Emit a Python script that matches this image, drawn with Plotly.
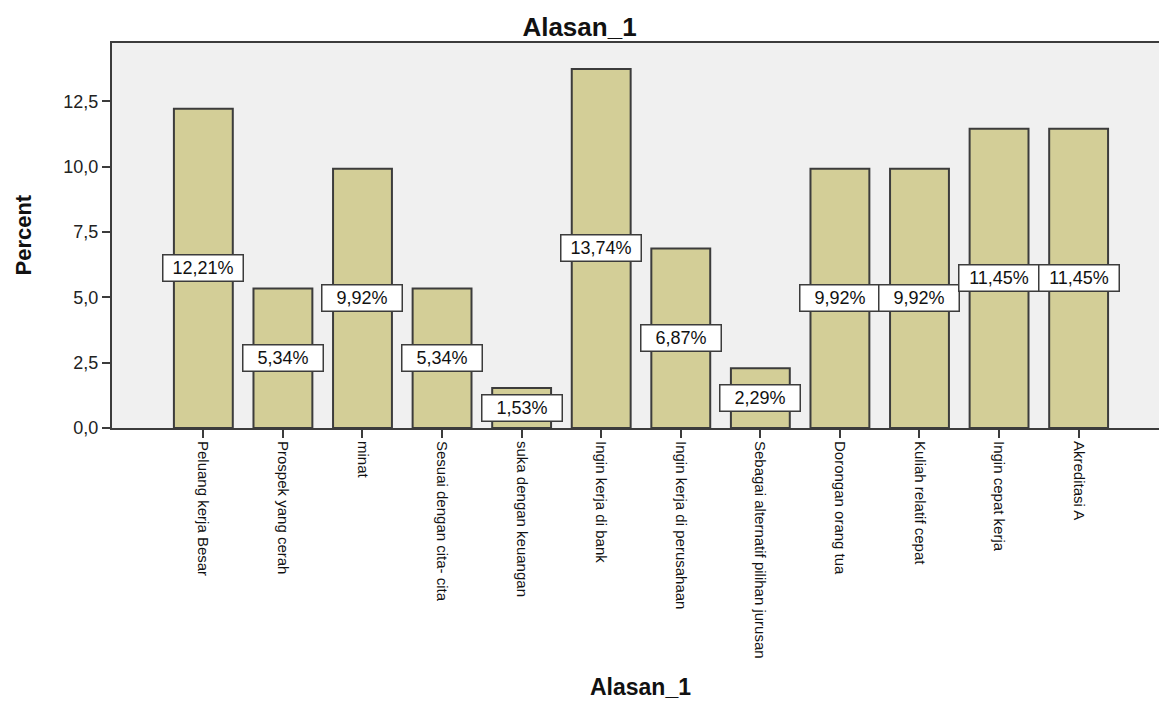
import plotly.graph_objects as go

# Frequency of first-choice reasons (percent of respondents)
categories = [
    "Peluang kerja Besar",
    "Prospek yang cerah",
    "minat",
    "Sesuai dengan cita- cita",
    "suka dengan keuangan",
    "Ingin kerja di bank",
    "Ingin kerja di perusahaan",
    "Sebagai alternatif pilihan jurusan",
    "Dorongan orang tua",
    "Kuliah relatif cepat",
    "Ingin cepat kerja",
    "Akreditasi A",
]
percent = [12.21, 5.34, 9.92, 5.34, 1.53, 13.74, 6.87, 2.29, 9.92, 9.92, 11.45, 11.45]
y_ticks = [0.0, 2.5, 5.0, 7.5, 10.0, 12.5]

FONT = "Liberation Sans, Arial, sans-serif"
EDGE = "#3c3c3c"

fig = go.Figure(
    go.Bar(
        x=categories,
        y=percent,
        width=0.74,
        marker=dict(color="#d3ce97", line=dict(color=EDGE, width=2)),
        hoverinfo="skip",
    )
)

# value labels in white boxes at half the bar height
for cat, val in zip(categories, percent):
    fig.add_annotation(
        x=cat, y=val / 2, xref="x", yref="y",
        text=f"{val:.2f}%".replace(".", ","),
        showarrow=False,
        font=dict(family=FONT, size=18, color="#111111"),
        bgcolor="white", bordercolor=EDGE, borderwidth=1.5,
        width=75, height=21, borderpad=2,
    )

# axis titles
fig.add_annotation(
    x=5.5, y=-0.672, xref="x", yref="paper",
    text="<b>Alasan_1</b>", showarrow=False,
    font=dict(family=FONT, size=23, color="#111111"),
    yanchor="middle",
)
fig.add_annotation(
    x=-0.085, y=0.5, xref="paper", yref="paper",
    text="<b>Percent</b>", showarrow=False, textangle=-90,
    font=dict(family=FONT, size=22, color="#111111"),
    xanchor="center", yanchor="middle",
)

fig.update_layout(
    width=1159, height=702,
    margin=dict(l=112, r=0, t=43, b=274),
    paper_bgcolor="white",
    plot_bgcolor="#f0f0f0",
    separators=",.",
    showlegend=False,
    title=dict(
        text="<b>Alasan_1</b>",
        x=0.5, xref="container", xanchor="center",
        y=1 - 27 / 702, yref="container", yanchor="middle",
        font=dict(family=FONT, size=26, color="#111111"),
    ),
    xaxis=dict(
        type="category",
        range=[-1.148, 12.01],
        showline=True, linecolor=EDGE, linewidth=2, mirror=True,
        ticks="outside", ticklen=8, tickwidth=1.5, tickcolor=EDGE,
        tickangle=90,
        tickfont=dict(family=FONT, size=15, color="#111111"),
        showgrid=False, zeroline=False,
    ),
    yaxis=dict(
        range=[0, 14.73],
        tickvals=y_ticks,
        tickformat=".1f",
        showline=True, linecolor=EDGE, linewidth=2,
        ticks="outside", ticklen=8, tickwidth=1.5, tickcolor=EDGE,
        tickfont=dict(family=FONT, size=18, color="#222222"),
        showgrid=False, zeroline=False,
    ),
)

fig.write_html("out.html")
